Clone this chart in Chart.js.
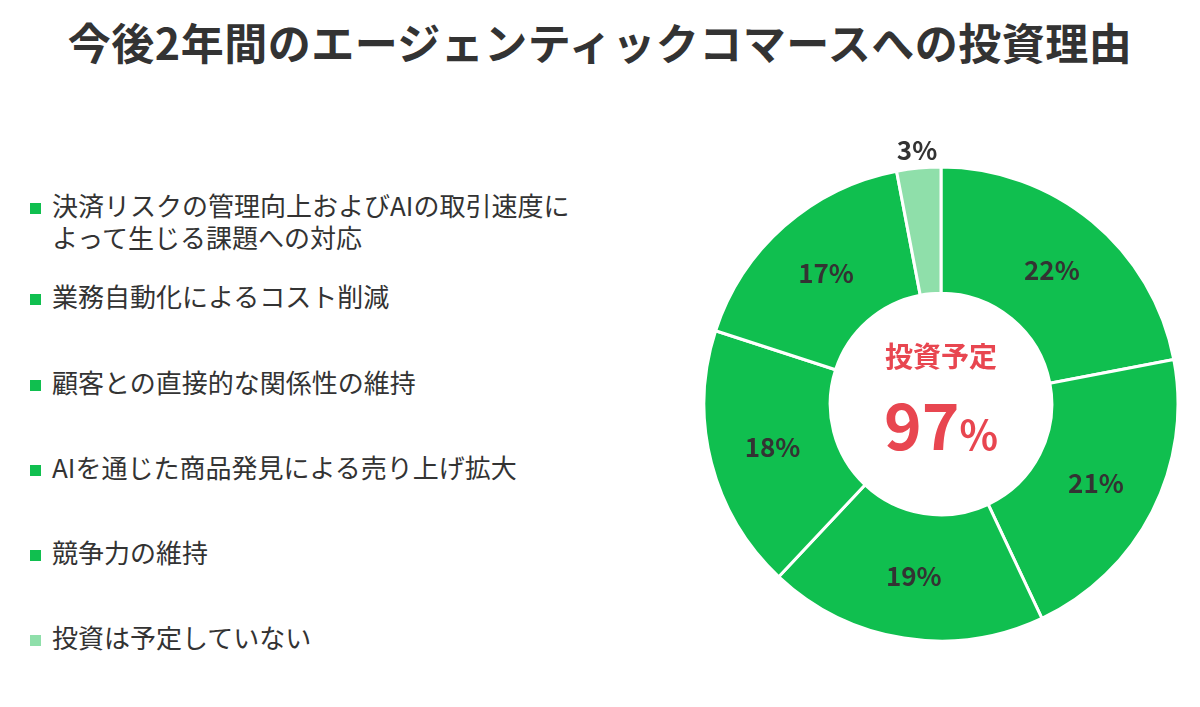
<!DOCTYPE html>
<html><head><meta charset="utf-8">
<script src="https://cdn.jsdelivr.net/npm/chart.js@4"></script>
<style>
body{margin:0;width:1200px;height:707px;background:#fff;font-family:"Noto Sans CJK JP",sans-serif;color:#333;position:relative;overflow:hidden}
h1{position:absolute;top:10px;left:0;width:1200px;text-align:center;margin:0;font-size:43px;font-weight:700;color:#333;letter-spacing:0.5px}
.leg{position:absolute;left:30px;font-size:26px;line-height:32px;white-space:nowrap}
.leg span{display:inline-block;width:11px;height:11px;margin-right:11px;vertical-align:2px}
#wrap{position:absolute;left:700px;top:133px;width:482px;height:542px}
</style></head><body>
<h1>今後2年間のエージェンティックコマースへの投資理由</h1>
<div id="legend"></div>
<div id="wrap"><canvas id="c"></canvas>
<div style="position:absolute;left:0;width:482px;top:202px;text-align:center;color:#e84650;font-weight:700;font-size:28px">投資予定</div>
<div style="position:absolute;left:0;width:482px;top:243px;text-align:center;color:#e84650;font-weight:700"><span style="font-size:64px">97</span><span style="font-size:40px">%</span></div>
</div>
<script>
const categories = ['決済リスクの管理向上およびAIの取引速度に\nよって生じる課題への対応','業務自動化によるコスト削減','顧客との直接的な関係性の維持','AIを通じた商品発見による売り上げ拡大','競争力の維持','投資は予定していない'];
const values = [22, 21, 19, 18, 17, 3];
const colors = ['#10bf4f','#10bf4f','#10bf4f','#10bf4f','#10bf4f','#8fdfaa'];
const legendTops = [189, 280, 366, 451, 536, 621];

const leg = document.getElementById('legend');
categories.forEach((c, i) => {
    const d = document.createElement('div');
    d.className = 'leg';
    d.style.top = legendTops[i] + 'px';
    d.innerHTML = '<span style="background:' + colors[i] + '"></span>' + c.replace('\n', '<br><span style="width:0;margin-right:22px"></span>');
    leg.appendChild(d);
});

const labelPlugin = {
    id: 'labels',
    afterDatasetsDraw(chart) {
        const ctx = chart.ctx;
        chart.getDatasetMeta(0).data.forEach((arc, i) => {
            const mid = (arc.startAngle + arc.endAngle) / 2;
            const r = values[i] < 5 ? arc.outerRadius + 18 : (arc.innerRadius + arc.outerRadius) / 2;
            ctx.save();
            ctx.fillStyle = '#333';
            ctx.font = '700 26px "Noto Sans CJK JP"';
            ctx.textAlign = 'center';
            ctx.textBaseline = 'middle';
            ctx.fillText(values[i] + '%', arc.x + Math.cos(mid) * r, arc.y + Math.sin(mid) * r);
            ctx.restore();
        });
    }
};

new Chart(document.getElementById('c'), {
    type: 'doughnut',
    data: { labels: categories, datasets: [{ data: values, backgroundColor: colors, borderColor: '#fff', borderWidth: 3 }] },
    options: {
        responsive: true, maintainAspectRatio: false, animation: false,
        radius: 237, cutout: 112,
        plugins: { legend: { display: false }, tooltip: { enabled: false } }
    },
    plugins: [labelPlugin]
});
</script>
</body></html>
